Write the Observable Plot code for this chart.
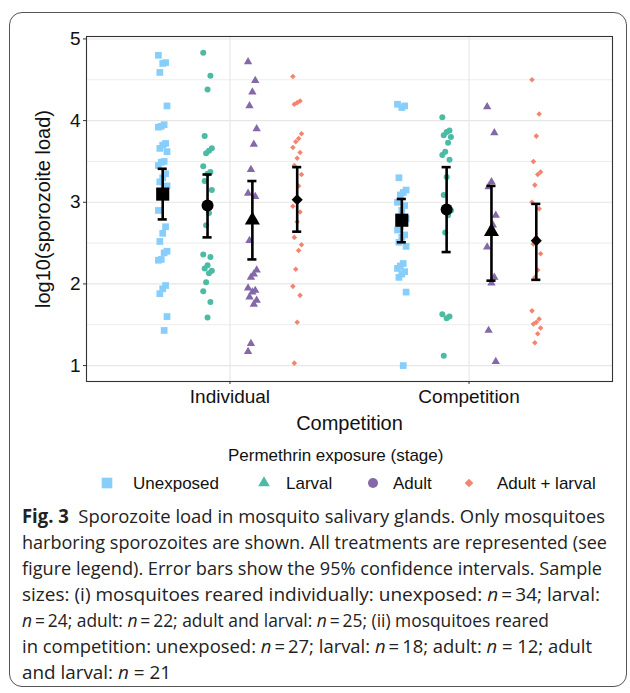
<!DOCTYPE html>
<html><head><meta charset="utf-8">
<script src="https://cdn.jsdelivr.net/npm/d3@7"></script>
<script src="https://cdn.jsdelivr.net/npm/@observablehq/plot@0.6"></script>
<style>
body{margin:0;background:#fff;width:630px;height:693px;overflow:hidden;position:relative;font-family:"Liberation Sans",Arial,sans-serif;}
#card{position:absolute;left:9px;top:12px;width:618px;height:675px;border:1.2px solid #555;border-radius:13px;box-sizing:border-box;}
#chart{position:absolute;left:0;top:0;}
#legend{position:absolute;left:0;top:0;width:630px;height:693px;}
.lg{position:absolute;font-size:17px;color:#111;white-space:nowrap;line-height:1;}
#caption{position:absolute;left:22px;top:503px;font-family:"Open Sans","Liberation Sans",sans-serif;font-size:19px;color:#222;}
.cl{position:absolute;left:0;white-space:nowrap;transform-origin:0 50%;line-height:26px;height:26px;}
</style></head><body>
<div id="card"></div>
<div id="chart"></div>
<div id="legend"></div>
<div id="caption"></div>
<script>
const groups = ["Individual", "Competition"];
const treatments = ["Unexposed", "Larval", "Adult", "Adult + larval"];
const yTicks = [1, 2, 3, 4, 5];
const yMinor = [1.5, 2.5, 3.5, 4.5];

// log10 sporozoite load, mosquitoes reared individually
const indUnexposed = [4.80, 4.71, 4.70, 4.59, 4.18, 3.95, 3.93, 3.92, 3.72, 3.70, 3.66, 3.62, 3.50, 3.49, 3.45, 3.35, 3.30, 3.25, 3.20, 3.19, 3.11, 2.90, 2.70, 2.62, 2.52, 2.40, 2.38, 2.30, 2.29, 1.98, 1.94, 1.88, 1.60, 1.43];
const indLarval = [4.83, 4.55, 4.38, 3.81, 3.66, 3.63, 3.60, 3.44, 3.37, 3.35, 3.26, 3.15, 2.87, 2.72, 2.36, 2.33, 2.23, 2.19, 2.16, 2.13, 2.02, 1.91, 1.78, 1.59];
const indAdult = [4.72, 4.49, 4.35, 4.18, 3.90, 3.71, 3.40, 3.11, 3.07, 2.80, 2.53, 2.17, 2.12, 2.08, 1.95, 1.92, 1.90, 1.84, 1.80, 1.75, 1.27, 1.17];
const indAdultLarval = [4.54, 4.24, 4.22, 4.20, 3.84, 3.78, 3.74, 3.67, 3.61, 3.54, 3.45, 3.34, 3.20, 3.05, 2.95, 2.88, 2.76, 2.57, 2.48, 2.41, 2.18, 1.97, 1.86, 1.53, 1.03];
// mosquitoes reared in competition
const compUnexposed = [4.20, 4.18, 4.16, 3.30, 3.15, 3.12, 3.09, 3.00, 2.96, 2.90, 2.82, 2.80, 2.76, 2.70, 2.66, 2.60, 2.57, 2.51, 2.46, 2.25, 2.22, 2.19, 2.15, 2.12, 2.08, 1.90, 1.00];
const compLarval = [4.04, 3.88, 3.86, 3.82, 3.80, 3.73, 3.62, 3.58, 3.52, 3.31, 3.09, 2.90, 2.84, 2.63, 1.63, 1.60, 1.58, 1.12];
const compAdult = [4.17, 3.85, 3.25, 3.19, 2.84, 2.72, 2.62, 2.45, 2.08, 2.01, 1.43, 1.05];
const compAdultLarval = [4.50, 4.08, 3.81, 3.50, 3.37, 3.34, 3.21, 3.00, 2.92, 2.57, 2.49, 2.37, 2.17, 2.08, 1.67, 1.57, 1.53, 1.51, 1.46, 1.39, 1.28];

// means and 95% CI (order: Unexposed, Larval, Adult, Adult + larval)
const meanInd = [3.10, 2.96, 2.78, 3.03];
const ciLowInd = [2.79, 2.57, 2.30, 2.64];
const ciHighInd = [3.41, 3.34, 3.26, 3.43];
const meanComp = [2.78, 2.91, 2.64, 2.53];
const ciLowComp = [2.51, 2.39, 2.04, 2.05];
const ciHighComp = [3.04, 3.43, 3.20, 2.98];

// styles
const colors = ["#87cefa", "#4cbba3", "#8468a8", "#f28470"];
const plotSymbols = ["square", "circle", "triangle", "diamond2"];
const legendSymbols = ["square", "triangle", "circle", "diamond2"];
const pointR = [3.8, 3.0, 3.1, 2.5];
const meanR = [7.4, 6.0, 5.6, 5.0];

const rawByGroup = [
  [indUnexposed, indLarval, indAdult, indAdultLarval],
  [compUnexposed, compLarval, compAdult, compAdultLarval]
];
const summaries = [
  {mean: meanInd, lo: ciLowInd, hi: ciHighInd},
  {mean: meanComp, lo: ciLowComp, hi: ciHighComp}
];
const dodge = t => (t - 1.5) * 0.1875;
const jitter = i => (((i * 5) % 7) - 3) * 0.006;

const points = [];
rawByGroup.forEach((arr, g) => arr.forEach((vals, t) => vals.forEach((v, i) => {
  points.push({t, x: g + 1 + dodge(t) + jitter(i), y: v});
})));
const stats = [];
summaries.forEach((s, g) => treatments.forEach((name, t) => {
  stats.push({t, x: g + 1 + dodge(t), mean: s.mean[t], lo: s.lo[t], hi: s.hi[t]});
}));
const capHalf = 0.019;

const marks = [
  Plot.ruleY(yMinor, {stroke: "#ececec", strokeWidth: 1}),
  Plot.ruleY(yTicks, {stroke: "#e6e6e6", strokeWidth: 1.1}),
  Plot.ruleX([1, 2], {stroke: "#e6e6e6", strokeWidth: 1.1})
];
treatments.forEach((name, t) => {
  marks.push(Plot.dot(points.filter(d => d.t === t), {x: "x", y: "y", symbol: plotSymbols[t], fill: colors[t], r: pointR[t], stroke: "none"}));
});
marks.push(
  Plot.ruleX(stats, {x: "x", y1: "lo", y2: "hi", stroke: "#000", strokeWidth: 2.6}),
  Plot.ruleY(stats, {x1: d => d.x - capHalf, x2: d => d.x + capHalf, y: "lo", stroke: "#000", strokeWidth: 2.6}),
  Plot.ruleY(stats, {x1: d => d.x - capHalf, x2: d => d.x + capHalf, y: "hi", stroke: "#000", strokeWidth: 2.6})
);
treatments.forEach((name, t) => {
  marks.push(Plot.dot(stats.filter(d => d.t === t), {x: "x", y: "mean", symbol: plotSymbols[t], fill: "#000", r: meanR[t], stroke: "none"}));
});
marks.push(
  Plot.frame({stroke: "#333", strokeWidth: 1.1}),
  Plot.axisY({ticks: yTicks, tickFormat: d => String(d), tickSize: 3, tickPadding: 3, fontSize: 19, label: null, stroke: "#333"}),
  Plot.axisX({ticks: [1, 2], tickFormat: d => groups[d - 1], tickSize: 3, tickPadding: 5, fontSize: 19, label: null, stroke: "#333"}),
  Plot.text(["Competition"], {frameAnchor: "bottom", dy: 42, fontSize: 20, lineAnchor: "middle", fill: "#111"}),
  Plot.text(["log10(sporozoite load)"], {frameAnchor: "left", dx: -43, rotate: -90, fontSize: 20, lineAnchor: "middle", textAnchor: "middle", fill: "#111"})
);

const chart = Plot.plot({
  width: 630, height: 440,
  marginLeft: 86, marginRight: 18, marginTop: 36, marginBottom: 59,
  x: {domain: [0.4, 2.6]},
  y: {domain: [0.805, 5.03]},
  style: {fontFamily: "'Liberation Sans', Arial, sans-serif", background: "transparent", color: "#111"},
  marks
});
document.getElementById("chart").appendChild(chart);

// legend
const lg = document.getElementById("legend");
const title = document.createElement("div");
title.className = "lg";
title.textContent = "Permethrin exposure (stage)";
title.style.left = "228px"; title.style.top = "447px";
lg.appendChild(title);
const symX = [107, 264, 373, 469];
const txtX = [133, 286, 393, 497];
const legR = [6.0, 4.3, 5.0, 3.9];
const symMap = {square: d3.symbolSquare, triangle: d3.symbolTriangle, circle: d3.symbolCircle, diamond2: d3.symbolDiamond2};
treatments.forEach((name, t) => {
  const svg = d3.create("svg").attr("width", 20).attr("height", 20)
    .style("position", "absolute").style("left", (symX[t] - 10) + "px").style("top", (483 - 10) + "px");
  svg.append("path").attr("transform", "translate(10,10)")
    .attr("d", d3.symbol(symMap[legendSymbols[t]], Math.PI * legR[t] * legR[t])())
    .attr("fill", colors[t]);
  lg.appendChild(svg.node());
  const lab = document.createElement("div");
  lab.className = "lg";
  lab.textContent = name;
  lab.style.left = txtX[t] + "px"; lab.style.top = "475px";
  lg.appendChild(lab);
});

// caption
const capLines = [
  ["<b>Fig. 3</b>&nbsp; Sporozoite load in mosquito salivary glands. Only mosquitoes", 583],
  ["harboring sporozoites are shown. All treatments are represented (see", 585],
  ["figure legend). Error bars show the 95% confidence intervals. Sample", 580],
  ["sizes: (i) mosquitoes reared individually: unexposed: <i>n</i>&thinsp;=&thinsp;34; larval:", 578],
  ["<i>n</i>&thinsp;=&thinsp;24; adult: <i>n</i>&thinsp;=&thinsp;22; adult and larval: <i>n</i>&thinsp;=&thinsp;25; (ii) mosquitoes reared", 527],
  ["in competition: unexposed: <i>n</i>&thinsp;=&thinsp;27; larval: <i>n</i>&thinsp;=&thinsp;18; adult: <i>n</i> = 12; adult", 570],
  ["and larval: <i>n</i> = 21", 149]
];
const cap = document.getElementById("caption");
capLines.forEach(([html, w], i) => {
  const d = document.createElement("div");
  d.className = "cl";
  d.innerHTML = html;
  d.style.top = (i * 26) + "px";
  cap.appendChild(d);
  const actual = d.getBoundingClientRect().width;
  d.style.transform = `scaleX(${w / actual})`;
});
</script>
</body></html>
